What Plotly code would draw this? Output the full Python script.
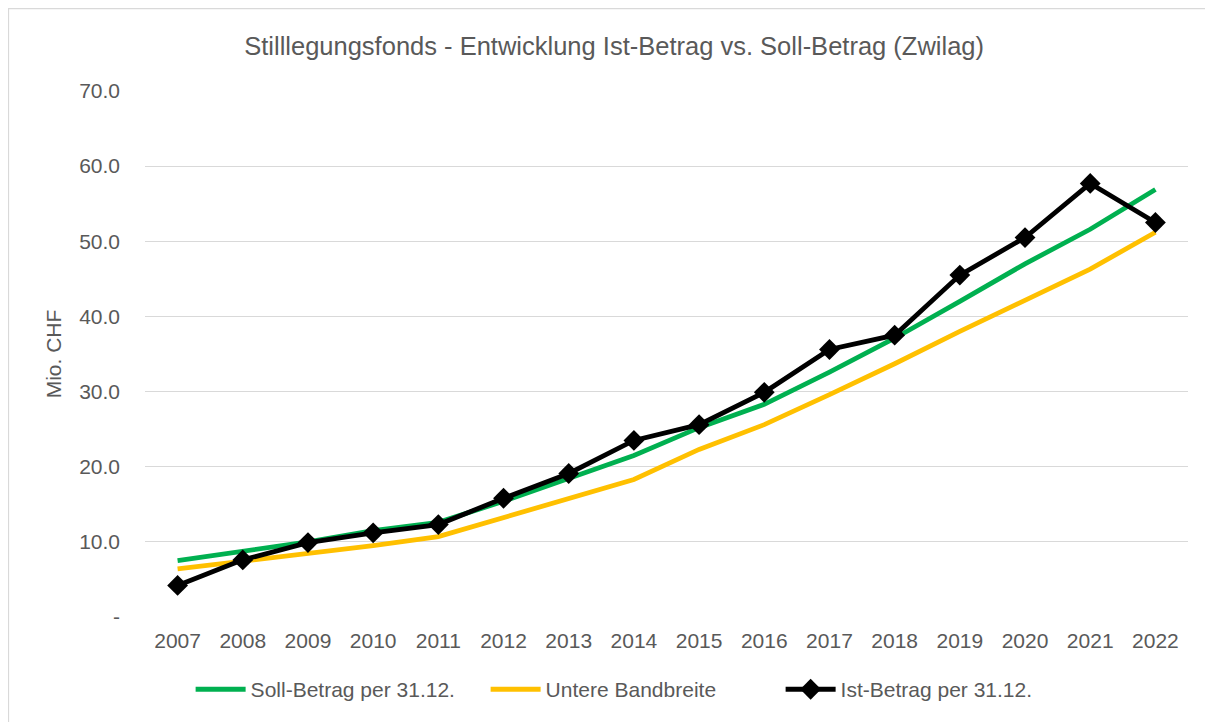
import plotly.graph_objects as go

years = [str(y) for y in range(2007, 2023)]
soll = [7.5, 8.7, 10.0, 11.5, 12.6, 15.4, 18.5, 21.5, 25.2, 28.3, 32.6, 37.1, 42.0, 47.0, 51.6, 56.9]
untere = [6.4, 7.4, 8.4, 9.5, 10.7, 13.2, 15.7, 18.3, 22.3, 25.6, 29.6, 33.7, 38.0, 42.1, 46.3, 51.2]
ist = [4.2, 7.6, 9.9, 11.2, 12.3, 15.8, 19.1, 23.5, 25.6, 29.9, 35.6, 37.5, 45.5, 50.5, 57.7, 52.5]
ytick_vals = [0, 10, 20, 30, 40, 50, 60, 70]
ytick_text = ["-", "10.0", "20.0", "30.0", "40.0", "50.0", "60.0", "70.0"]

title_text = "Stilllegungsfonds - Entwicklung Ist-Betrag vs. Soll-Betrag (Zwilag)"
font_family = "Liberation Sans, Arial, sans-serif"
grey = "#595959"

fig = go.Figure()
fig.add_trace(go.Scatter(x=years, y=soll, name="Soll-Betrag per 31.12.", mode="lines",
                         line=dict(color="#00B050", width=4.8)))
fig.add_trace(go.Scatter(x=years, y=untere, name="Untere Bandbreite", mode="lines",
                         line=dict(color="#FFC000", width=4.8)))
fig.add_trace(go.Scatter(x=years, y=ist, name="Ist-Betrag per 31.12.", mode="lines+markers",
                         line=dict(color="#000000", width=4.8),
                         marker=dict(symbol="diamond", size=16, color="#000000")))

fig.update_layout(
    width=1205, height=714,
    margin=dict(l=137, r=25, t=83, b=102),
    paper_bgcolor="white", plot_bgcolor="white",
    font=dict(family=font_family, color=grey, size=21),
    title=dict(text=title_text, x=0.503, xanchor="center", y=0.947, yanchor="middle",
               font=dict(size=25.5, color=grey, family=font_family)),
    showlegend=True,
    legend=dict(orientation="h", x=0.468, xanchor="center", y=-0.138, yanchor="middle",
                font=dict(size=21, color=grey), itemwidth=50, traceorder="normal",
                entrywidth=230),
    xaxis=dict(type="category", range=[-0.5, 15.5], showgrid=False, showline=False, ticks="",
               tickfont=dict(size=21, color=grey), ticklabelstandoff=9),
    yaxis=dict(range=[0, 70], tickvals=ytick_vals, ticktext=ytick_text,
               showgrid=True, gridcolor="#D9D9D9", gridwidth=1.3,
               zeroline=False, showline=False, ticks="",
               tickfont=dict(size=21, color=grey), ticklabelstandoff=24,
               title=dict(text="Mio. CHF", font=dict(size=21, color=grey), standoff=11)),
    shapes=[dict(type="rect", xref="paper", yref="paper",
                 x0=-0.131, x1=1.021, y0=-0.25, y1=1.157,
                 line=dict(color="#D9D9D9", width=1.5), fillcolor="rgba(0,0,0,0)", layer="below")],
)

fig.write_html("out.html")
